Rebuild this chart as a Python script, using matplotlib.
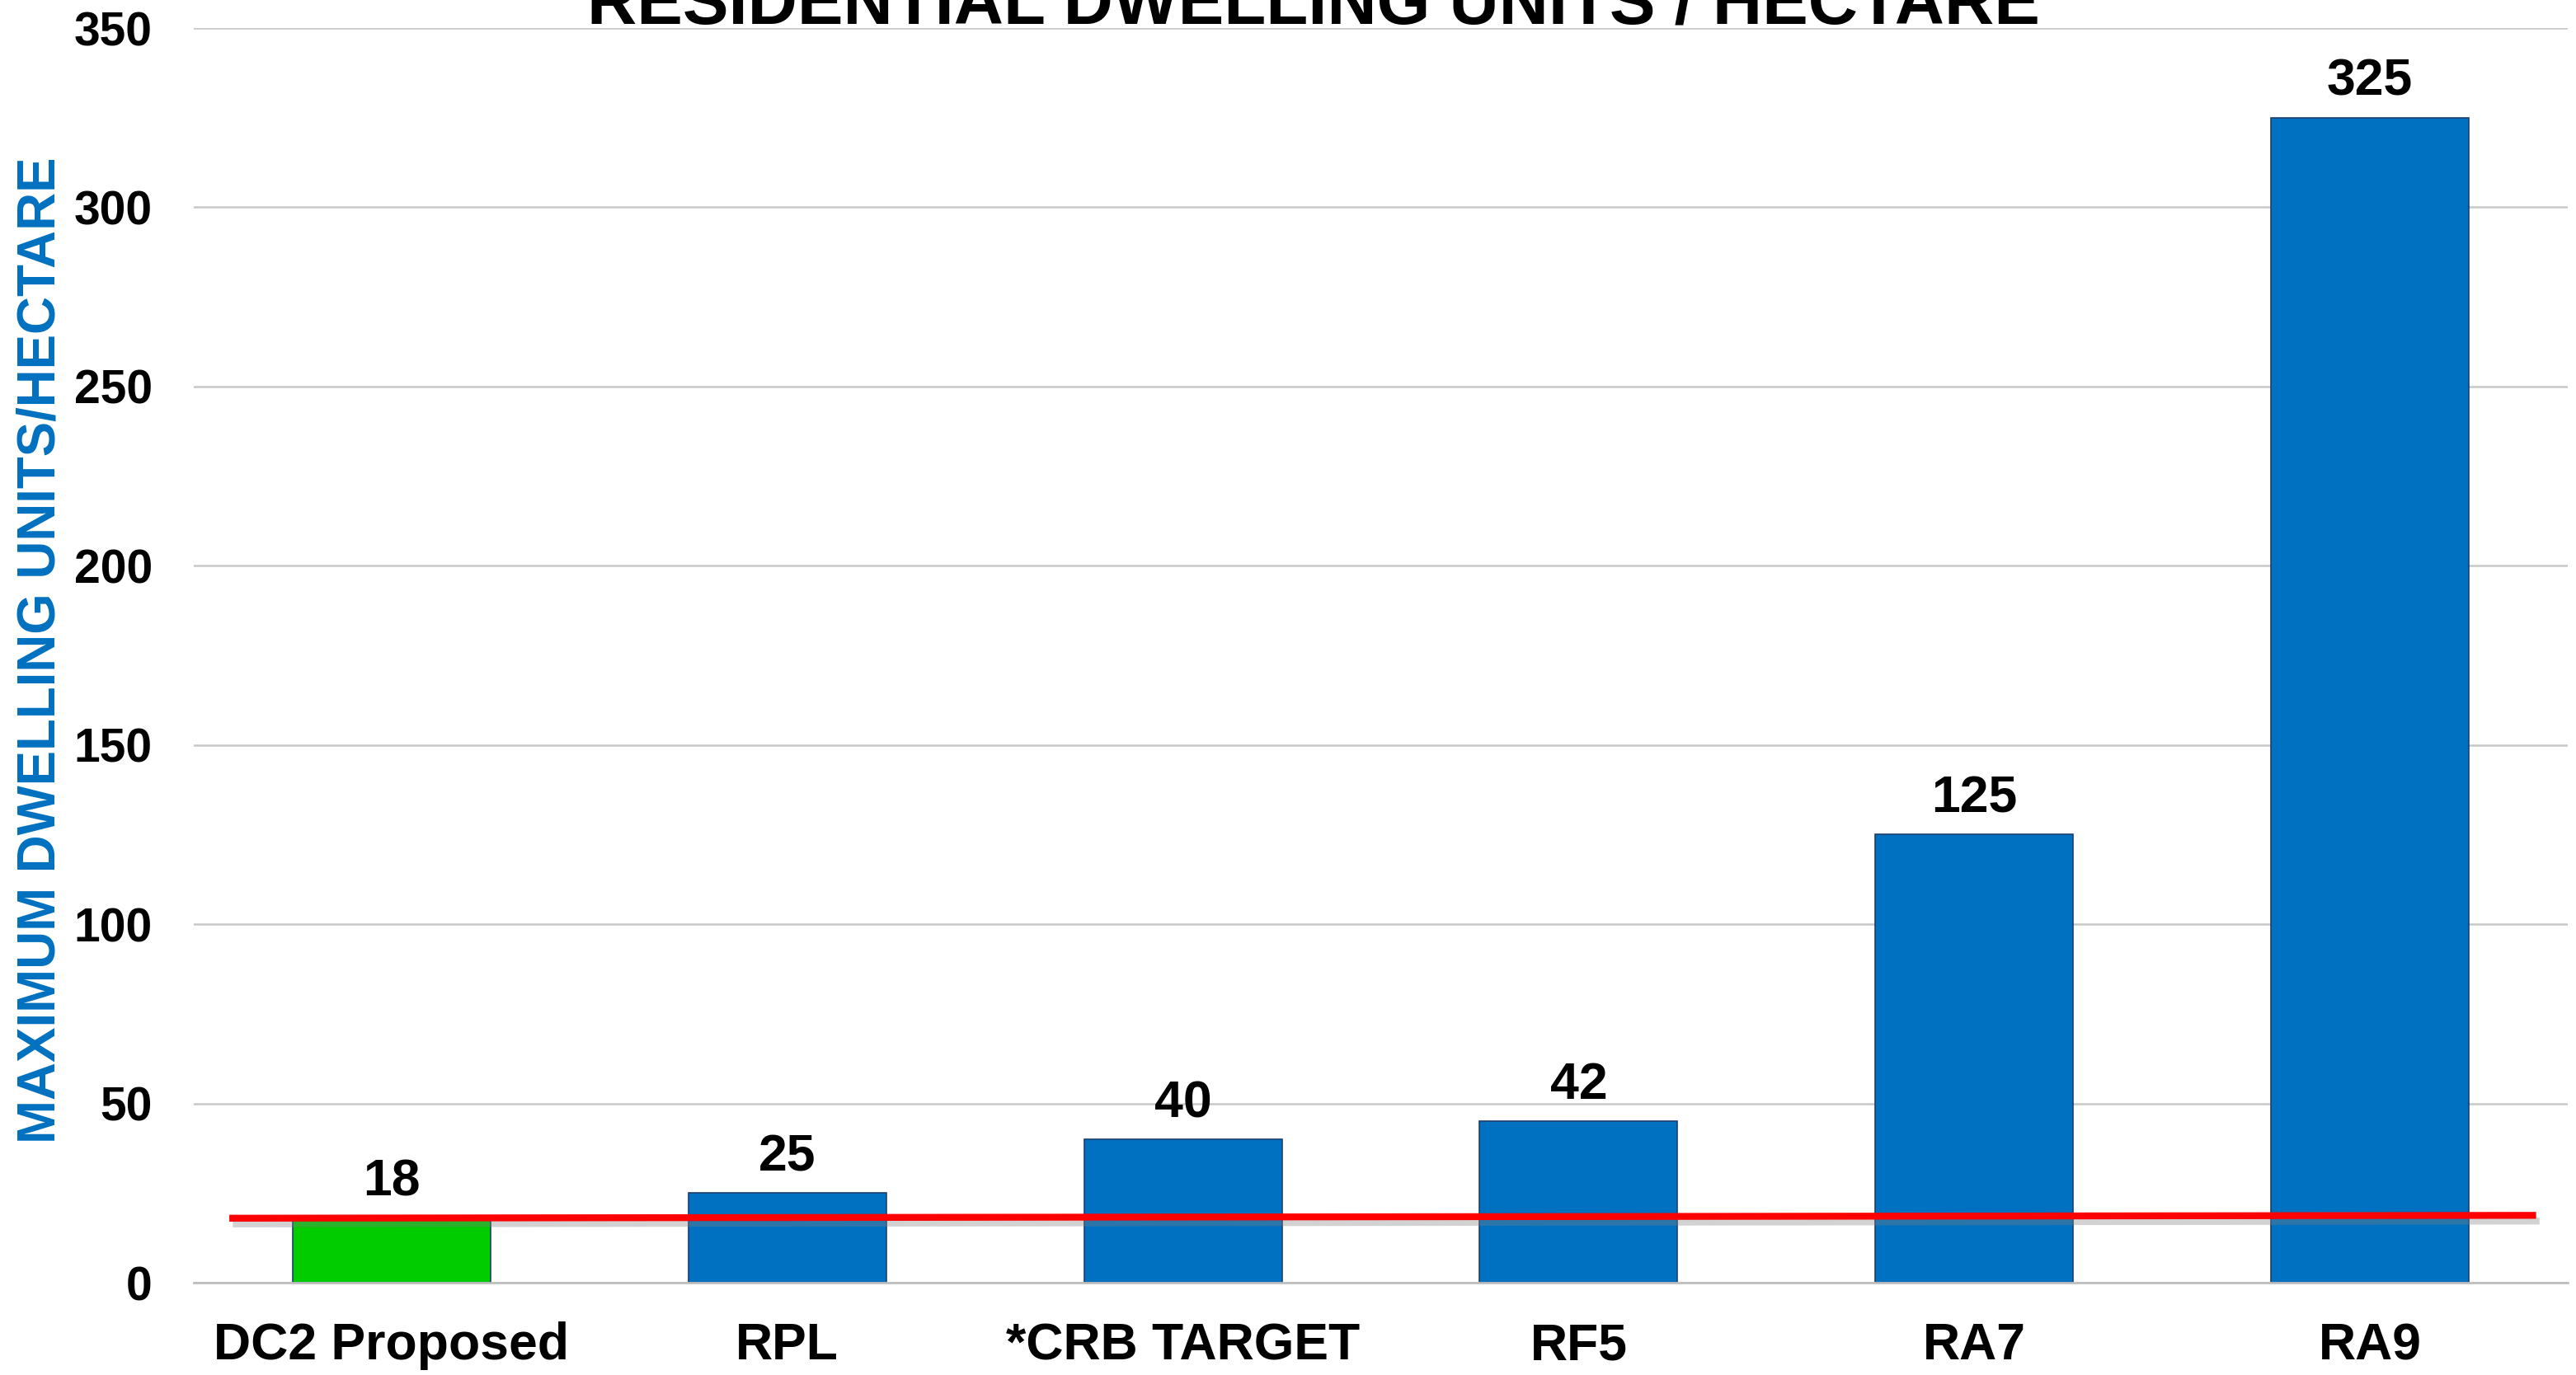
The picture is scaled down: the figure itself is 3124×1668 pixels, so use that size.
import numpy as np
import matplotlib
matplotlib.use('Agg')
import matplotlib.pyplot as plt
import matplotlib.patheffects as pe

# Chart data
categories = ['DC2 Proposed', 'RPL', '*CRB TARGET', 'RF5', 'RA7', 'RA9']
values = [18, 25, 40, 45, 125, 325]
value_labels = ['18', '25', '40', '42', '125', '325']
bar_colors = ['#00CC00', '#0070C0', '#0070C0', '#0070C0', '#0070C0', '#0070C0']
ref_line_y = [18, 18.8]          # red reference line, left end / right end
y_ticks = [0, 50, 100, 150, 200, 250, 300, 350]

plt.rcParams['font.family'] = ['Liberation Sans', 'DejaVu Sans']
plt.rcParams['font.weight'] = 'bold'

fig = plt.figure(figsize=(15.62, 8.34), dpi=200)
ax = fig.add_axes([0.0752, 0.0671, 0.9216, 0.9125])

x = np.arange(len(categories))
bars = ax.bar(x, values, width=0.5, color=bar_colors, edgecolor='#1F3F6F',
              linewidth=0.6, zorder=2)

for b, lab in zip(bars, value_labels):
    ax.annotate(lab, xy=(b.get_x() + b.get_width() / 2, b.get_height()),
                xytext=(0, 5), textcoords='offset points', ha='center',
                va='bottom', fontsize=22.5, fontweight='bold', color='black')

# red reference line with soft shadow
ax.plot([x[0] - 0.41, x[-1] + 0.42], ref_line_y, color='#FF0000', linewidth=3.0,
        solid_capstyle='butt', zorder=4,
        path_effects=[pe.SimpleLineShadow(offset=(1.5, -2.5), shadow_color='gray', alpha=0.35),
                      pe.Normal()])

ax.set_xlim(-0.5, len(categories) - 0.5)
ax.set_ylim(0, 350)
ax.set_yticks(y_ticks)
ax.set_xticks(x)
ax.set_xticklabels(categories, fontsize=22.5, fontweight='bold')
ax.tick_params(axis='x', length=0, pad=17)
ax.tick_params(axis='y', length=0, pad=18, labelsize=20.5)
for t in ax.get_yticklabels():
    t.set_fontweight('bold')

ax.grid(axis='y', color='#C8C8C8', linewidth=0.9, zorder=0)
ax.set_axisbelow(True)
for s in ['top', 'right', 'left']:
    ax.spines[s].set_visible(False)
ax.spines['bottom'].set_color('#BFBFBF')
ax.spines['bottom'].set_linewidth(1.0)

fig.text(0.016, 0.527, 'MAXIMUM DWELLING UNITS/HECTARE', rotation=90,
         ha='center', va='center', fontsize=22.9, fontweight='bold', color='#0070C0')

# title sits partly above the top edge, as in the reference
fig.text(0.51, 1 - 28 / 1668, 'RESIDENTIAL DWELLING UNITS / HECTARE',
         ha='center', va='baseline', fontsize=30, fontweight='bold', color='black')

fig.savefig('out.png', dpi=200, facecolor='white')
plt.close(fig)
